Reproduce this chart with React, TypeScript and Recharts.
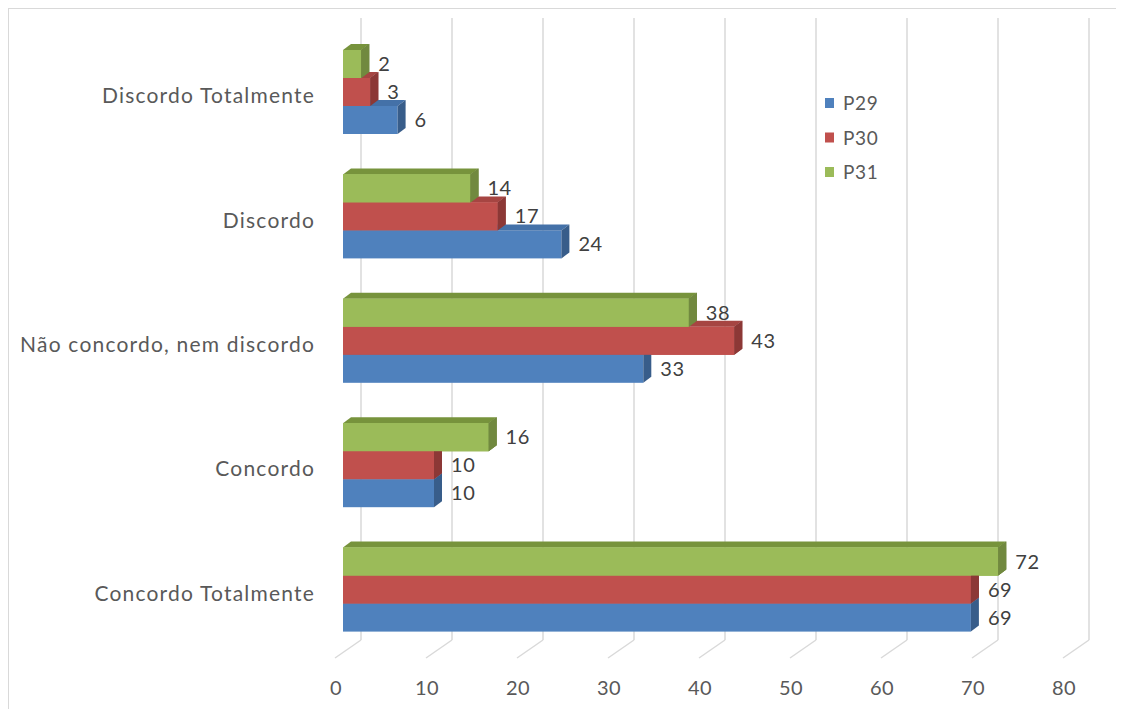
import { BarChart, Bar, XAxis, YAxis, CartesianGrid, Legend } from 'recharts'

// Survey answers, one row per answer option
const categories = ['Discordo Totalmente', 'Discordo', 'Não concordo, nem discordo', 'Concordo', 'Concordo Totalmente']
const p29 = [6, 24, 33, 10, 69]
const p30 = [3, 17, 43, 10, 69]
const p31 = [2, 14, 38, 16, 72]
const xTicks = [0, 10, 20, 30, 40, 50, 60, 70, 80]

const rows = categories.map((label, i) => ({ label, P29: p29[i], P30: p30[i], P31: p31[i] }))

// colours per series: front, side, top
const palette: Record<string, { front: string; side: string; top: string }> = {
	P29: { front: '#4F81BD', side: '#385D8A', top: '#4471A8' },
	P30: { front: '#C0504D', side: '#8C3836', top: '#A64542' },
	P31: { front: '#9BBB59', side: '#71893F', top: '#77933C' },
}

// series drawn top to bottom inside each band
const stackOrder = ['P31', 'P30', 'P29']

const DX = 8
const DY = 6
const font = 'Lato, "Open Sans", sans-serif'

const sideFace = (x1: number, y: number, h: number) =>
	`${x1},${y} ${x1 + DX},${y - DY} ${x1 + DX},${y + h - DY} ${x1},${y + h}`

const topFace = (x0: number, x1: number, y: number) =>
	`${x0},${y} ${x1},${y} ${x1 + DX},${y - DY} ${x0 + DX},${y - DY}`

// 3d bar: own faces first, then the bars sitting above it are painted again
// so they hide whatever of this bar is behind them
const makeShape = (key: string) => (props: any) => {
	const { x, y, width, height, payload } = props
	const v = payload[key]
	const c = palette[key]
	const x1 = x + width
	const perUnit = v ? width / v : 0
	const idx = stackOrder.indexOf(key)
	const above = stackOrder.slice(0, idx).reverse()
	return (
		<g>
			<rect x={x} y={y} width={width} height={height} fill={c.front} />
			<polygon points={topFace(x, x1, y)} fill={c.top} />
			<polygon points={sideFace(x1, y, height)} fill={c.side} />
			{above.map((k, j) => {
				const w = perUnit * payload[k]
				const yy = y - height * (j + 1)
				const ca = palette[k]
				return (
					<g key={k}>
						<rect x={x} y={yy} width={w} height={height} fill={ca.front} />
						<polygon points={sideFace(x + w, yy, height)} fill={ca.side} />
					</g>
				)
			})}
		</g>
	)
}

const ValueLabel = (props: any) => {
	const { x, y, width, height, value } = props
	return (
		<text
			x={x + width + 17}
			y={y + height / 2 + 7}
			fill='#404040'
			fontSize={20}
			letterSpacing={0.6}
			fontFamily={font}
		>
			{value}
		</text>
	)
}

const GridLine = (props: any) => {
	const { x1, y1, y2 } = props
	const bx = x1 + 18
	return (
		<g key={props.key}>
			<line x1={bx} y1={y1 - 12} x2={bx} y2={y2 - 12} stroke='#D9D9D9' strokeWidth={1.5} />
			<line x1={bx} y1={y2 - 12} x2={x1 - 8} y2={y2 + 6} stroke='#D9D9D9' strokeWidth={1.5} />
		</g>
	)
}

const XTick = (props: any) => (
	<text
		x={props.x - 7}
		y={props.y + 35}
		textAnchor='middle'
		fill='#595959'
		fontSize={20}
		letterSpacing={0.5}
		fontFamily={font}
	>
		{props.payload.value}
	</text>
)

const YTick = (props: any) => (
	<text
		x={props.x - 20}
		y={props.y + 11}
		textAnchor='end'
		fill='#595959'
		fontSize={21}
		letterSpacing={1.2}
		fontFamily={font}
	>
		{props.payload.value}
	</text>
)

const LegendBox = () => (
	<svg width={100} height={90} style={{ overflow: 'visible' }}>
		{['P29', 'P30', 'P31'].map((k, i) => (
			<g key={k}>
				<rect x={0} y={4 + i * 34.5} width={9} height={10} fill={palette[k].front} />
				<text x={18} y={16 + i * 34.5} fill='#595959' fontSize={19} letterSpacing={0.6} fontFamily={font}>
					{k}
				</text>
			</g>
		))}
	</svg>
)

export default function App() {
	return (
		<div
			style={{
				position: 'relative',
				width: 1116,
				height: 701,
				boxSizing: 'border-box',
				borderTop: '1px solid #D9D9D9',
				borderLeft: '1px solid #D9D9D9',
				background: '#fff',
			}}
		>
			<BarChart
				width={1115}
				height={700}
				data={rows}
				layout='vertical'
				margin={{ top: 21, right: 53, bottom: 27, left: 0 }}
				barSize={28}
				barGap={0}
			>
				<CartesianGrid horizontal={false} vertical={GridLine} />
				<XAxis type='number' domain={[0, 80]} ticks={xTicks} axisLine={false} tickLine={false} tick={XTick} interval={0} />
				<YAxis type='category' dataKey='label' width={334} axisLine={false} tickLine={false} tick={YTick} interval={0} />
				{stackOrder.map((k) => (
					<Bar key={k} dataKey={k} shape={makeShape(k)} label={ValueLabel} isAnimationActive={false} />
				))}
				<Legend
					layout='vertical'
					align='center'
					verticalAlign='middle'
					wrapperStyle={{ left: 816, top: 85, width: 100 }}
					content={LegendBox}
				/>
			</BarChart>
		</div>
	)
}
